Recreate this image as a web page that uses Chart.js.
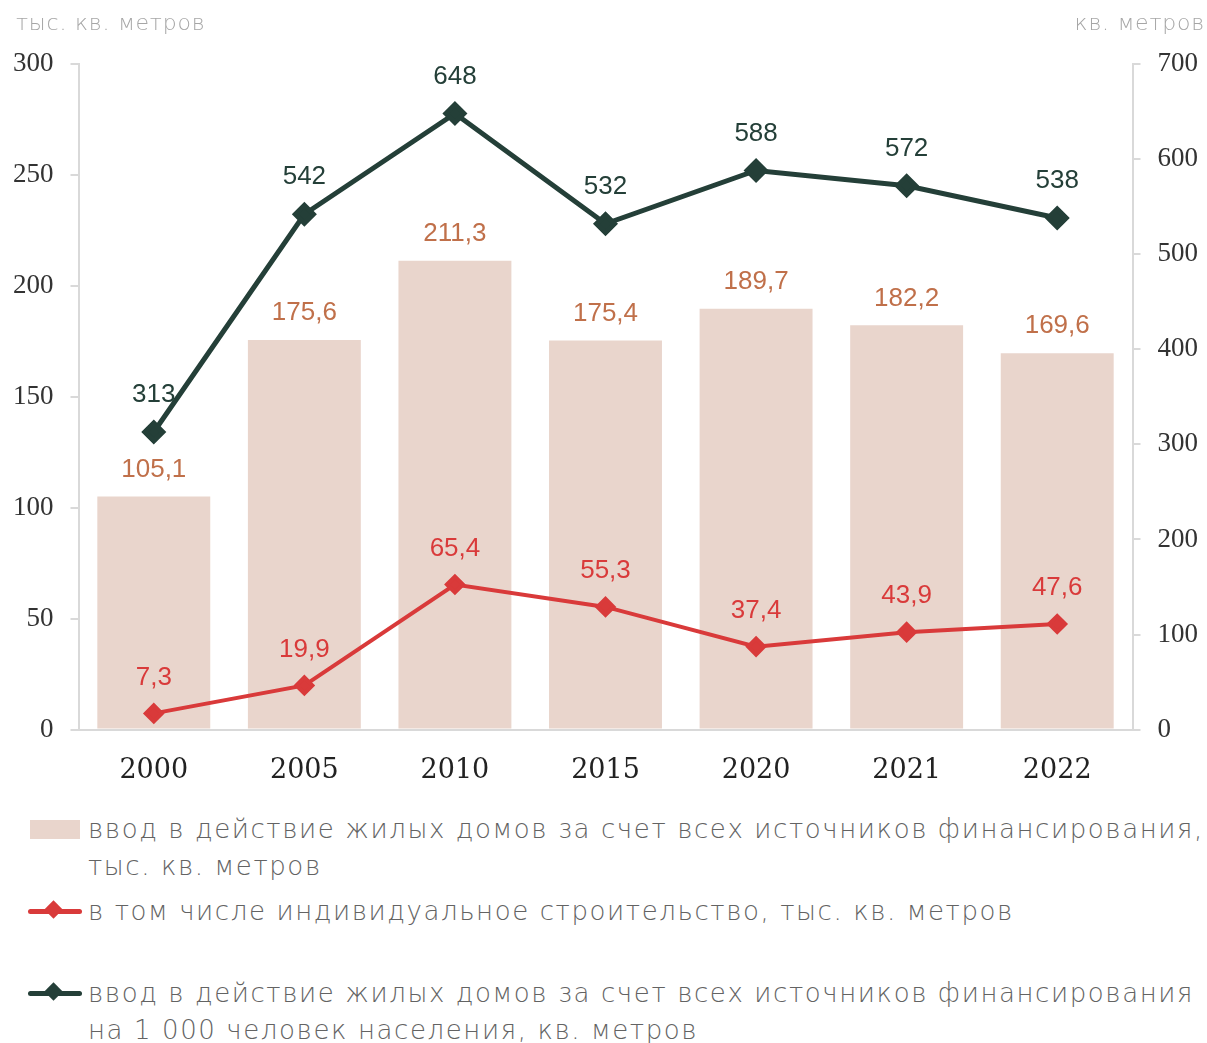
<!DOCTYPE html>
<html lang="ru">
<head>
<meta charset="utf-8">
<script src="https://cdn.jsdelivr.net/npm/chart.js@4.4.0/dist/chart.umd.min.js"></script>
<style>
  body { margin: 0; background: #fff; width: 1207px; height: 1043px; position: relative; overflow: hidden; }
  #wrap { position: absolute; left: 0; top: 0; width: 1207px; height: 800px; }
  .unit { position: absolute; top: 10px; font-family: "DejaVu Sans", sans-serif; font-weight: 200; font-size: 22px; color: #a6a6a6; letter-spacing: 0.8px; }
  .leg { position: absolute; left: 0; font-family: "DejaVu Sans", sans-serif; font-weight: 200; font-size: 26px; color: #636363; line-height: 37px; letter-spacing: 1.6px; }
  .leg .mk { position: absolute; left: 28px; top: 9px; width: 54px; height: 19px; }
  .leg .txt { margin-left: 88px; width: 1119px; white-space: pre-line; }
  .sw { background: #e9d5cc; left: 30px !important; width: 50px !important; }
  .ln { position: absolute; left: 0; top: 7px; width: 54px; height: 5px; border-radius: 3px; }
  .dm { position: absolute; left: 19px; top: 1px; width: 13px; height: 13px; transform: rotate(45deg); }
</style>
</head>
<body>
<div id="wrap"><canvas id="chart"></canvas></div>
<div class="unit" style="left:16px">тыс. кв. метров</div>
<div class="unit" style="right:2px">кв. метров</div>
<div id="legend"></div>
<script>
// data
const years = ['2000', '2005', '2010', '2015', '2020', '2021', '2022'];
const totalBuilt = [105.1, 175.6, 211.3, 175.4, 189.7, 182.2, 169.6];
const individualBuilt = [7.3, 19.9, 65.4, 55.3, 37.4, 43.9, 47.6];
const perThousand = [313, 542, 648, 532, 588, 572, 538];

const labelTotal = 'ввод в действие жилых домов за счет всех источников финансирования,\nтыс. кв. метров';
const labelIndividual = 'в том числе индивидуальное строительство, тыс. кв. метров';
const labelPerThousand = 'ввод в действие жилых домов за счет всех источников финансирования\nна 1 000 человек населения, кв. метров';

const barColor = '#e9d5cc';
const redColor = '#d93a3a';
const darkColor = '#243f38';

const fmt1 = v => v.toFixed(1).replace('.', ',');

// value labels above bars and points
const valueLabels = {
  id: 'valueLabels',
  afterDatasetsDraw(chart) {
    const ctx = chart.ctx;
    ctx.save();
    ctx.font = '26px "Liberation Sans", Arial, sans-serif';
    ctx.textAlign = 'center';
    ctx.textBaseline = 'middle';
    chart.data.datasets.forEach((ds, i) => {
      const meta = chart.getDatasetMeta(i);
      meta.data.forEach((el, j) => {
        const v = ds.data[j];
        ctx.fillStyle = ds.labelColor;
        const txt = ds.intLabels ? String(v) : fmt1(v);
        ctx.fillText(txt, el.x, el.y - ds.labelOffset);
      });
    });
    ctx.restore();
  }
};

const axisColor = '#d9d9d9';
const tickFont = { family: '"Liberation Serif", serif', size: 27 };

new Chart(document.getElementById('chart'), {
  type: 'bar',
  data: {
    labels: years,
    datasets: [
      {
        type: 'line',
        label: labelPerThousand,
        data: perThousand,
        yAxisID: 'y2',
        borderColor: darkColor,
        backgroundColor: darkColor,
        borderWidth: 5,
        pointStyle: 'rectRot',
        pointRadius: 9,
        pointHoverRadius: 9,
        order: 1,
        labelColor: darkColor,
        labelOffset: 37,
        intLabels: true
      },
      {
        type: 'line',
        label: labelIndividual,
        data: individualBuilt,
        yAxisID: 'y',
        borderColor: redColor,
        backgroundColor: redColor,
        borderWidth: 4,
        pointStyle: 'rectRot',
        pointRadius: 8,
        pointHoverRadius: 8,
        order: 2,
        labelColor: redColor,
        labelOffset: 36
      },
      {
        type: 'bar',
        label: labelTotal,
        data: totalBuilt,
        yAxisID: 'y',
        backgroundColor: barColor,
        barPercentage: 0.75,
        categoryPercentage: 1,
        order: 3,
        labelColor: '#c0704a',
        labelOffset: 27
      }
    ]
  },
  options: {
    responsive: true,
    maintainAspectRatio: false,
    animation: false,
    layout: { padding: { top: 64, left: -4, right: -8, bottom: -4 } },
    plugins: {
      legend: { display: false },
      tooltip: { enabled: false }
    },
    scales: {
      x: {
        grid: { display: false },
        border: { color: axisColor, width: 2 },
        ticks: { color: '#222', padding: 17, font: { family: '"DejaVu Serif", "Liberation Serif", serif', size: 27 } }
      },
      y: {
        position: 'left',
        min: 0,
        max: 300,
        ticks: { stepSize: 50, color: '#333', padding: 17, font: tickFont },
        grid: { drawOnChartArea: false, color: axisColor, tickLength: 8, lineWidth: 2 },
        border: { color: axisColor, width: 2 }
      },
      y2: {
        position: 'right',
        min: 0,
        max: 700,
        ticks: { stepSize: 100, color: '#333', padding: 17, font: tickFont },
        grid: { drawOnChartArea: false, color: axisColor, tickLength: 8, lineWidth: 2 },
        border: { color: axisColor, width: 2 }
      }
    }
  },
  plugins: [valueLabels]
});

// html legend built from the series labels
const legendItems = [
  { label: labelTotal, kind: 'bar', color: barColor, top: 811 },
  { label: labelIndividual, kind: 'line', color: redColor, top: 893 },
  { label: labelPerThousand, kind: 'line', color: darkColor, top: 975 }
];
const legendEl = document.getElementById('legend');
legendItems.forEach(item => {
  const row = document.createElement('div');
  row.className = 'leg';
  row.style.top = item.top + 'px';
  let marker;
  if (item.kind === 'bar') {
    marker = '<div class="mk sw"></div>';
  } else {
    marker = '<div class="mk"><div class="ln" style="background:' + item.color + '"></div><div class="dm" style="background:' + item.color + '"></div></div>';
  }
  row.innerHTML = marker + '<div class="txt"></div>';
  row.querySelector('.txt').textContent = item.label;
  legendEl.appendChild(row);
});
</script>
</body>
</html>
